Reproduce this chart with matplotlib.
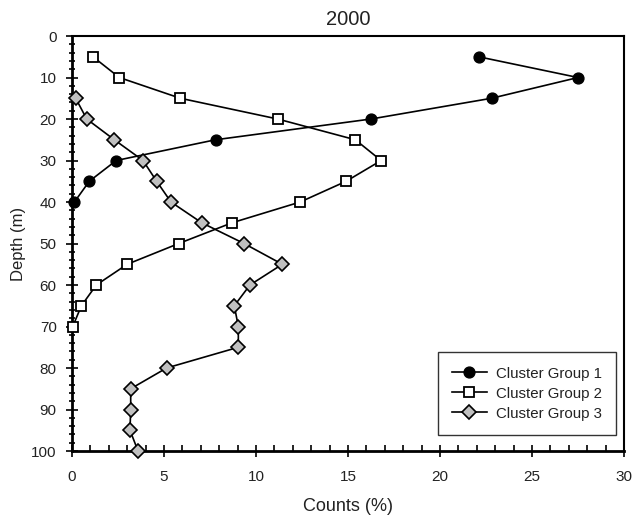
import matplotlib
matplotlib.use("Agg")
import matplotlib.pyplot as plt
from matplotlib.ticker import MultipleLocator

plt.rcParams['font.family'] = ['Liberation Sans', 'DejaVu Sans']
TXT = '#222222'

depth1 = [5, 10, 15, 20, 25, 30, 35, 40]
group1 = [22.1, 27.5, 22.8, 16.25, 7.8, 2.4, 0.94, 0.13]

depth2 = [5, 10, 15, 20, 25, 30, 35, 40, 45, 50, 55, 60, 65, 70]
group2 = [1.14, 2.57, 5.89, 11.18, 15.4, 16.8, 14.9, 12.4, 8.7, 5.8, 3.0, 1.32, 0.51, 0.04]

depth3 = [15, 20, 25, 30, 35, 40, 45, 50, 55, 60, 65, 70, 75, 80, 85, 90, 95, 100]
group3 = [0.2, 0.8, 2.3, 3.86, 4.6, 5.38, 7.05, 9.35, 11.43, 9.67, 8.82, 9.04, 9.04,
          5.14, 3.19, 3.19, 3.15, 3.59]

labels = ["Cluster Group 1", "Cluster Group 2", "Cluster Group 3"]

fig = plt.figure(figsize=(6.4, 5.19), dpi=100)
ax = fig.add_axes([0.1125, 0.131, 0.8625, 0.7996])

ax.plot(group1, depth1, color='black', lw=1.2, marker='o', ms=7.8,
        mfc='black', mec='black', label=labels[0], clip_on=False, zorder=3)
ax.plot(group2, depth2, color='black', lw=1.2, marker='s', ms=7,
        mfc='white', mec='black', mew=1.3, label=labels[1], clip_on=False, zorder=3)
ax.plot(group3, depth3, color='black', lw=1.2, marker='D', ms=7,
        mfc='#c0c0c0', mec='black', mew=1.2, label=labels[2], clip_on=False, zorder=3)

ax.set_xlim(0, 30)
ax.set_ylim(100, 0)
ax.xaxis.set_major_locator(MultipleLocator(5))
ax.xaxis.set_minor_locator(MultipleLocator(1))
ax.yaxis.set_major_locator(MultipleLocator(10))
ax.yaxis.set_minor_locator(MultipleLocator(2))

ax.tick_params(axis='x', which='major', direction='inout', length=8, width=1.2,
               labelsize=11, pad=10, labelcolor=TXT)
ax.tick_params(axis='x', which='minor', direction='in', length=4, width=1.2)
ax.tick_params(axis='y', which='major', direction='inout', length=8, width=1.2,
               labelsize=11, pad=7, labelcolor=TXT)
ax.tick_params(axis='y', which='minor', direction='inout', length=5, width=1.2)

for sp in ax.spines.values():
    sp.set_linewidth(1.5)
ax.spines['left'].set_linewidth(2)
ax.spines['bottom'].set_linewidth(2)

ax.set_title("2000", fontsize=14.5, pad=8, color=TXT)
ax.set_xlabel("Counts (%)", fontsize=13, labelpad=10, color=TXT)
ax.set_ylabel("Depth (m)", fontsize=12, labelpad=4, color=TXT)

leg = ax.legend(loc='lower right', bbox_to_anchor=(0.9855, 0.0386),
                borderaxespad=0, frameon=True,
                fancybox=False, edgecolor='black', fontsize=10.8,
                handlelength=2.3, handletextpad=0.6, borderpad=0.95,
                labelspacing=0.4)
leg.get_frame().set_linewidth(1.0)
for t in leg.get_texts():
    t.set_color(TXT)

fig.savefig("out.png", dpi=100)
